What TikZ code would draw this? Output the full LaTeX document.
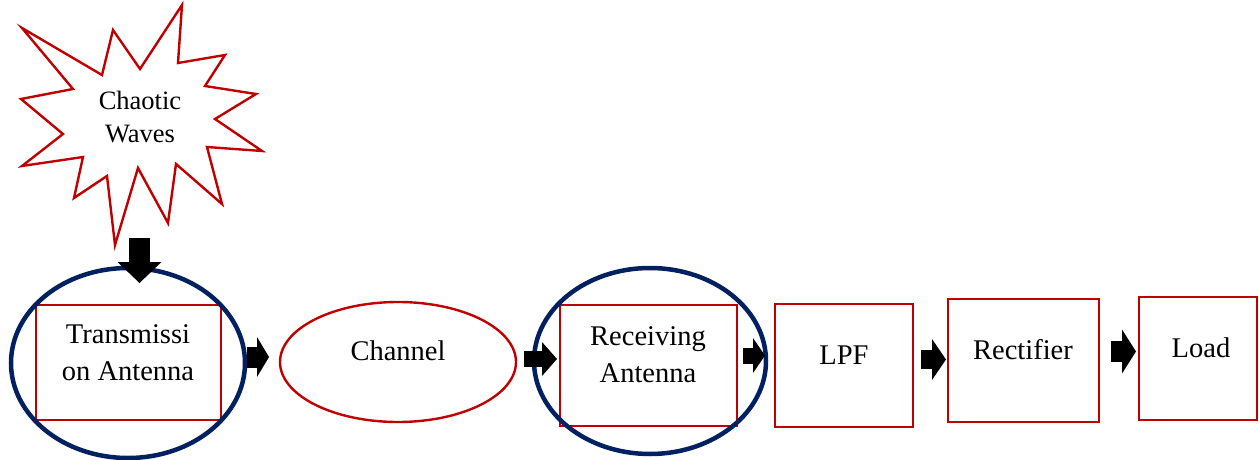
\documentclass[tikz,border=0pt]{standalone}
\usepackage{fontspec}
\setmainfont{Liberation Serif}
\usetikzlibrary{shapes.geometric,arrows.meta}
\definecolor{dred}{HTML}{C00000}
\definecolor{navy}{HTML}{002060}
\tikzset{
  redbox/.style={draw=dred, line width=2.6pt, rectangle, inner sep=0pt, outer sep=0pt},
  blueell/.style={draw=navy, line width=4.5pt, ellipse, inner sep=0pt, outer sep=0pt},
  redell/.style={draw=dred, line width=2.4pt, ellipse, inner sep=0pt, outer sep=0pt},
  starline/.style={draw=dred, line width=2.4pt, line join=miter, miter limit=20},
  lbl/.style={anchor=base, inner sep=0pt, text width=220pt, align=flush center,
              font=\fontsize{28.5}{37}\selectfont},
  blk/.style n args={3}{line width=#1, -{Triangle[width=#2, length=#3, line width=0pt]}},
}
\begin{document}
\begin{tikzpicture}[x=1pt, y=-1pt]
\useasboundingbox (0,0) rectangle (1259,460);

% starburst
\draw[starline] (182,5) -- (178,63) -- (225,55) -- (205,86) -- (256,94) -- (215,119)
  -- (262,151) -- (207,147) -- (222,204) -- (176,164) -- (168,223) -- (138,168)
  -- (115,245) -- (107,176) -- (74,198) -- (83,157) -- (22,166) -- (63,134)
  -- (21,99) -- (73,89) -- (22,28) -- (102,75) -- (113,30) -- (140,69) -- cycle;
\node[lbl, font=\fontsize{26.5}{33}\selectfont] (tst) at (140,110) {Chaotic\\Waves};

% shapes
\node[redbox, minimum width=185pt, minimum height=115pt] (tb) at (128.5,362.5) {};
\node[blueell, minimum width=234pt, minimum height=190pt] (tx) at (128,363) {};
\node[redell, minimum width=236pt, minimum height=120pt] (ch) at (398,362) {};
\node[redbox, minimum width=177pt, minimum height=121pt] (rb) at (648.5,365.5) {};
\node[blueell, minimum width=232pt, minimum height=186pt] (rx) at (650,361) {};
\node[redbox, minimum width=138pt, minimum height=123pt] (lpf) at (844,365.5) {};
\node[redbox, minimum width=151pt, minimum height=123pt] (rect) at (1023.5,360.5) {};
\node[redbox, minimum width=118pt, minimum height=123pt] (load) at (1198,358.5) {};

% texts
\node[lbl] (ttx) at (128,343) {Transmissi\\on Antenna};
\node[lbl] (tch) at (398,360) {Channel};
\node[lbl] (trx) at (648,345) {Receiving\\Antenna};
\node[lbl] (tlpf) at (844,364) {LPF};
\node[lbl] (trect) at (1023,359) {Rectifier};
\node[lbl] (tload) at (1201,357) {Load};

% block arrows
\coordinate (a1) at (139.5,238);
\draw[blk={21pt}{44pt}{21pt}] (a1) -- ([shift={(11.5,15)}]tx.north);
\draw[blk={21pt}{40pt}{12pt}, shorten >=11pt] ([shift={(2,-6)}]tx.east) -- ([shift={(0,-5)}]ch.west);
\draw[blk={16pt}{34pt}{15pt}, shorten >=3pt] ([shift={(8,-3)}]ch.east) -- ([shift={(0,-6.5)}]rb.west);
\draw[blk={16pt}{35pt}{12pt}, shorten >=10pt] ([shift={(6,-10)}]rb.east) -- ([shift={(0,-10)}]lpf.west);
\draw[blk={19pt}{41pt}{14pt}, shorten >=2pt] ([shift={(8,-6)}]lpf.east) -- ([shift={(0,-1)}]rect.west);
\draw[blk={21pt}{44pt}{14pt}, shorten >=3pt] ([shift={(12,-9)}]rect.east) -- ([shift={(0,-7)}]load.west);
\end{tikzpicture}
\end{document}
